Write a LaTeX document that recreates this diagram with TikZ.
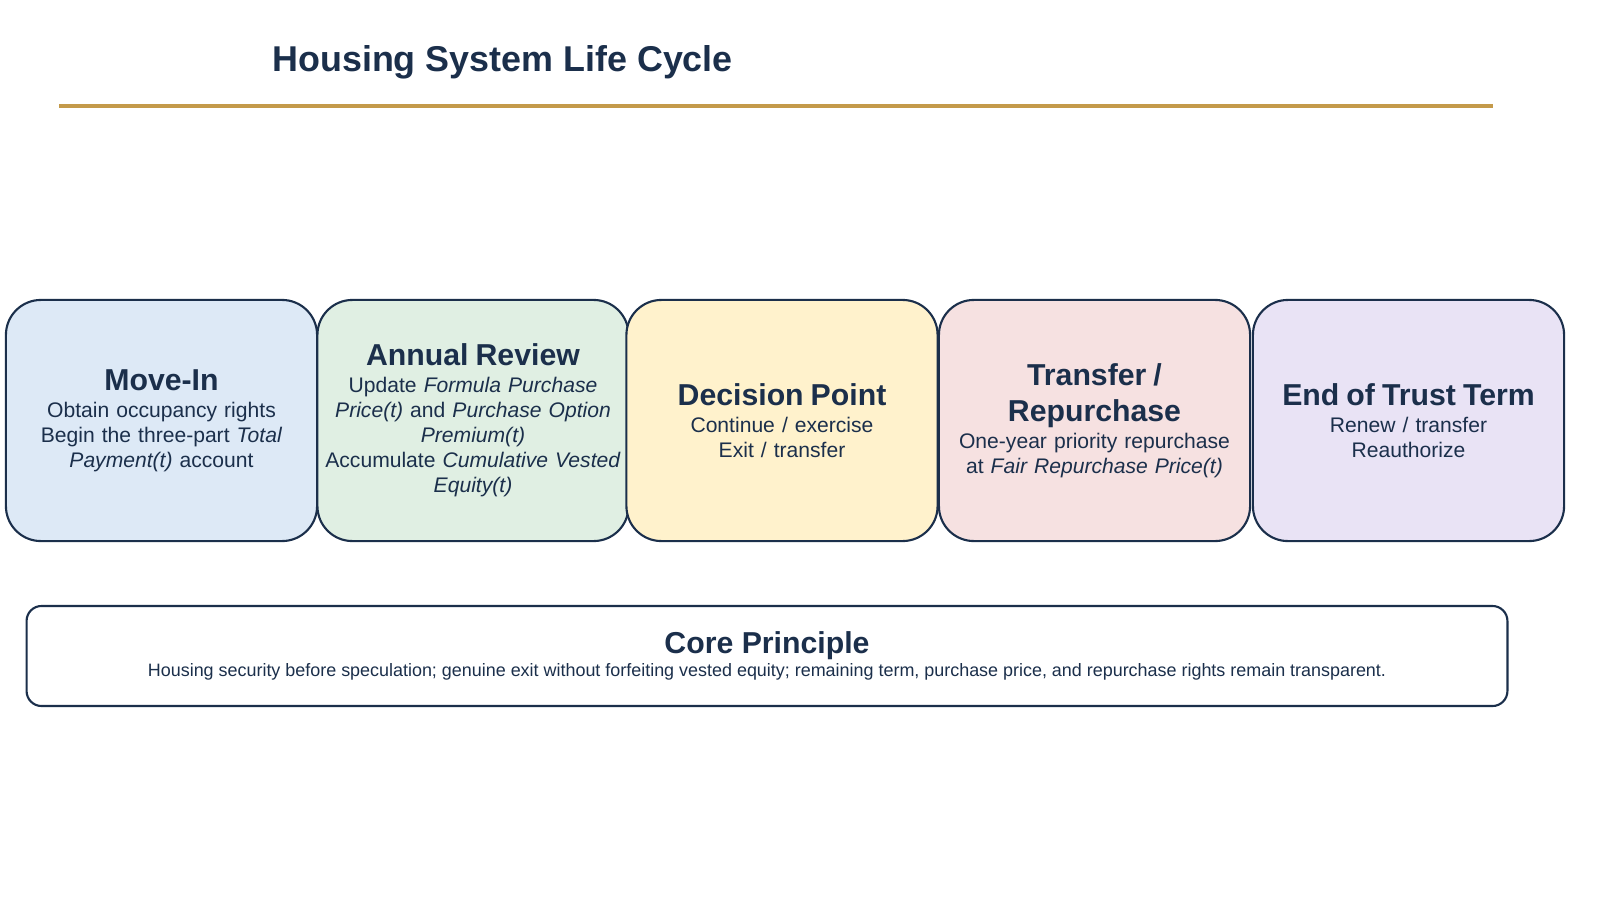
\documentclass[tikz,border=0pt]{standalone}
\usepackage{fontspec}
\setmainfont{Liberation Sans}
\definecolor{navy}{HTML}{1B2F4B}
\definecolor{gold}{HTML}{C49A4A}
\definecolor{fillblue}{HTML}{DDE9F6}
\definecolor{fillgreen}{HTML}{E0EFE3}
\definecolor{fillyellow}{HTML}{FFF2CC}
\definecolor{fillpink}{HTML}{F6E1E1}
\definecolor{filllav}{HTML}{E9E3F5}
\newcommand{\stagehead}[1]{{\fontsize{8.6}{10.4}\selectfont\bfseries #1}\\[0.6pt]}
\begin{document}
\begin{tikzpicture}[x=0.01cm, y=-0.01cm,
  stage/.style={draw=navy, line width=0.6pt, rounded corners=0.35cm,
    minimum width=3.11cm, minimum height=2.41cm, align=center, inner sep=0pt,
    text width=3.0cm, text=navy, font=\fontsize{6.0}{7.1}\selectfont},
  rule/.style={draw=gold, line width=1.1pt}]
\useasboundingbox (0,0) rectangle (1600,900);
\node[anchor=west, text=navy, font=\fontsize{10.2}{12}\selectfont\bfseries] (title) at (260,62) {Housing System Life Cycle};
\coordinate (ruleL) at (59,106);
\coordinate (ruleR) at (1493,106);
\draw[rule] (ruleL) -- (ruleR);
\node[stage, fill=fillblue] (movein) at (161.5,420.5) {\stagehead{Move-In}Obtain occupancy rights\\Begin the three-part \textit{Total}\\\textit{Payment(t)} account};
\node[stage, fill=fillgreen] (review) at (473,420.5) {\stagehead{Annual Review}Update \textit{Formula Purchase}\\\textit{Price(t)} and \textit{Purchase Option}\\\textit{Premium(t)}\\Accumulate \textit{Cumulative Vested}\\\textit{Equity(t)}};
\node[stage, fill=fillyellow] (decision) at (782,420.5) {\stagehead{Decision Point}Continue / exercise\\Exit / transfer};
\node[stage, fill=fillpink] (transfer) at (1094.5,420.5) {\stagehead{Transfer /\\[3pt]Repurchase}One-year priority repurchase\\at \textit{Fair Repurchase Price(t)}};
\node[stage, fill=filllav] (endterm) at (1408.5,420.5) {\stagehead{End of Trust Term}Renew / transfer\\Reauthorize};
\node[draw=navy, line width=0.6pt, rounded corners=0.15cm, fill=white,
  minimum width=14.8cm, minimum height=1.0cm, align=center, text=navy,
  font=\fontsize{5.1}{6}\selectfont] (core) at (767,656)
  {{\fontsize{8.6}{10}\selectfont\bfseries Core Principle}\\[0.5pt]Housing security before speculation; genuine exit without forfeiting vested equity; remaining term, purchase price, and repurchase rights remain transparent.};
\end{tikzpicture}
\end{document}
